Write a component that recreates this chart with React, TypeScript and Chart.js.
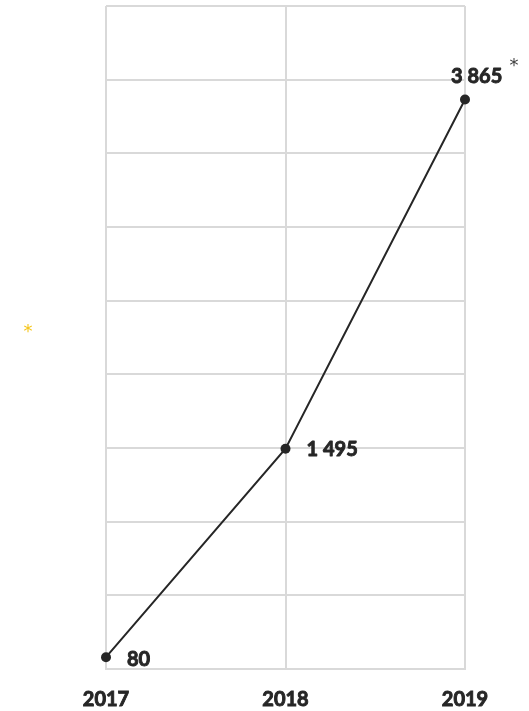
import React, { useEffect, useRef } from "react";
import { Chart, registerables } from "chart.js";

Chart.register(...registerables);

const years: string[] = ["2017", "2018", "2019"];
const values: number[] = [80, 1495, 3865];
const yMin = 0;
const yMax = 4500;
const yStep = 500;

const fmt = (v: number) => String(v).replace(/\B(?=(\d{3})+(?!\d))/g, " ");

const labelPlugin = {
  id: "valueLabels",
  afterDatasetsDraw(chart: any) {
    const ctx = chart.ctx;
    const meta = chart.getDatasetMeta(0);
    const offsets = [
      { dx: 21, dy: 2, align: "left" },
      { dx: 21, dy: 1, align: "left" },
      { dx: -14, dy: -23, align: "left" },
    ];
    ctx.save();
    ctx.textBaseline = "middle";
    meta.data.forEach((pt: any, i: number) => {
      const o = offsets[i];
      ctx.font = "bold 20px Lato";
      ctx.fillStyle = "#262626";
      ctx.strokeStyle = "#262626";
      ctx.lineWidth = 0.9;
      ctx.lineJoin = "round";
      ctx.textAlign = o.align;
      const text = fmt(values[i]);
      ctx.strokeText(text, pt.x + o.dx, pt.y + o.dy);
      ctx.fillText(text, pt.x + o.dx, pt.y + o.dy);
      if (i === values.length - 1) {
        ctx.font = "18px 'DejaVu Sans'";
        ctx.fillStyle = "#404040";
        ctx.textAlign = "center";
        ctx.fillText("*", 514, pt.y + o.dy - 10);
      }
    });
    ctx.font = "18px 'DejaVu Sans'";
    ctx.fillStyle = "#f5c518";
    ctx.textAlign = "center";
    ctx.fillText("*", 28, 332);
    ctx.restore();
  },
};

export default function App() {
  const ref = useRef<HTMLCanvasElement | null>(null);
  useEffect(() => {
    if (!ref.current) return;
    const chart = new Chart(ref.current, {
      type: "line",
      data: {
        labels: years,
        datasets: [
          {
            data: values,
            borderColor: "#262626",
            backgroundColor: "#262626",
            borderWidth: 2,
            pointRadius: 5,
            pointBackgroundColor: "#262626",
            pointBorderWidth: 0,
            tension: 0,
            clip: false as any,
          },
        ],
      },
      options: {
        animation: false,
        responsive: false,
        maintainAspectRatio: false,
        layout: { padding: { left: 106, right: 64, top: 6, bottom: 0 } },
        plugins: { legend: { display: false }, tooltip: { enabled: false } },
        scales: {
          x: {
            offset: false,
            grid: { color: "#d9d9d9", lineWidth: 2, drawTicks: false },
            border: { display: true, color: "#d9d9d9", width: 2 },
            ticks: {
              color: "#262626",
              font: { family: "Lato", size: 20, weight: "bold" },
              textStrokeColor: "#262626",
              textStrokeWidth: 0.9,
              padding: 19,
              maxRotation: 0,
            } as any,
            afterFit: (s: any) => {
              s.height = 42;
            },
          },
          y: {
            min: yMin,
            max: yMax,
            ticks: { stepSize: yStep, display: false },
            grid: { color: "#d9d9d9", lineWidth: 2, drawTicks: false },
            border: { display: false },
            afterFit: (s: any) => {
              s.width = 0;
            },
          },
        },
      },
      plugins: [labelPlugin],
    });
    return () => chart.destroy();
  }, []);
  return (
    <div style={{ position: "absolute", left: 0, top: 0, width: 529, height: 711 }}>
      <canvas ref={ref} width={529} height={711} style={{ width: 529, height: 711 }} />
    </div>
  );
}
